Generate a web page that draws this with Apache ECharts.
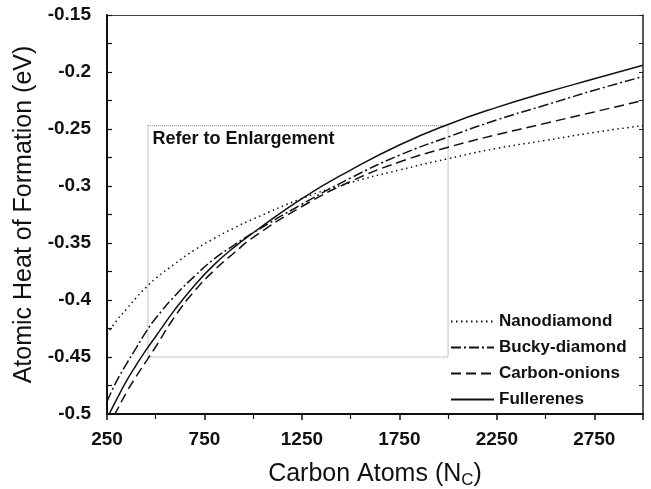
<!DOCTYPE html>
<html>
<head>
<meta charset="utf-8">
<script src="https://cdn.jsdelivr.net/npm/echarts@6/dist/echarts.min.js"></script>
<style>
  html, body { margin: 0; padding: 0; background: #fff; }
  #chart { width: 651px; height: 489px; }
</style>
</head>
<body>
<div id="chart"></div>
<script>
// carbon atom counts where the curves were read
const atoms = [250, 300, 350, 400, 450, 500, 600, 700, 800, 900, 1000, 1250, 1500, 1750, 2000, 2250, 2500, 2750, 3000];

// atomic heat of formation (eV)
const nanodiamond = [-0.430, -0.418, -0.408, -0.398, -0.389, -0.381, -0.368, -0.356, -0.346, -0.337, -0.329, -0.311, -0.297, -0.286, -0.276, -0.267, -0.260, -0.253, -0.247];
const buckyDiamond = [-0.489, -0.471, -0.456, -0.442, -0.428, -0.416, -0.396, -0.379, -0.364, -0.352, -0.341, -0.316, -0.293, -0.273, -0.257, -0.242, -0.229, -0.216, -0.204];
const carbonOnions = [-0.513, -0.497, -0.481, -0.467, -0.454, -0.441, -0.414, -0.392, -0.374, -0.359, -0.345, -0.318, -0.296, -0.279, -0.266, -0.255, -0.245, -0.235, -0.225];
const fullerenes = [-0.504, -0.487, -0.471, -0.457, -0.444, -0.432, -0.408, -0.387, -0.369, -0.354, -0.341, -0.311, -0.286, -0.264, -0.246, -0.231, -0.218, -0.206, -0.194];

const seriesNames = ['Nanodiamond', 'Bucky-diamond', 'Carbon-onions', 'Fullerenes'];

// dotted box: [N from, eV top], [N to, eV bottom]
const enlargeBox = [[460, -0.247], [2000, -0.45]];

const FONT = '"Liberation Sans", Arial, sans-serif';
const INK = '#111';

const toPairs = (vals) => atoms.map((n, i) => [n, vals[i]]);

const lineSeries = (name, vals, type, width) => ({
  name,
  type: 'line',
  data: toPairs(vals),
  smooth: true,
  symbol: 'none',
  clip: true,
  lineStyle: { color: INK, width, type },
  itemStyle: { color: INK }
});

const chart = echarts.init(document.getElementById('chart'), null, { renderer: 'canvas' });

const series = [
  lineSeries(seriesNames[0], nanodiamond, [1.5, 3.5], 1.5),
  lineSeries(seriesNames[1], buckyDiamond, [10, 3, 2, 3], 1.5),
  lineSeries(seriesNames[2], carbonOnions, [10, 5], 1.5),
  lineSeries(seriesNames[3], fullerenes, 'solid', 1.5)
];

series[0].markArea = {
  silent: true,
  itemStyle: {
    color: 'rgba(0,0,0,0)',
    borderColor: '#888',
    borderWidth: 1,
    borderType: [1, 1]
  },
  label: {
    show: true,
    position: 'insideTopLeft',
    distance: 5,
    formatter: 'Refer to Enlargement',
    color: INK,
    fontFamily: FONT,
    fontSize: 18,
    fontWeight: 'bold'
  },
  data: [[
    { coord: enlargeBox[0] },
    { coord: enlargeBox[1] }
  ]]
};

const option = {
  animation: false,
  backgroundColor: '#fff',
  grid: { left: 107, right: 8, top: 15, bottom: 75, outerBoundsMode: 'none', containLabel: false },
  legend: {
    data: seriesNames,
    orient: 'vertical',
    left: 450,
    top: 313,
    padding: 0,
    itemWidth: 43,
    itemHeight: 14,
    itemGap: 9,
    itemStyle: { color: 'rgba(0,0,0,0)', borderWidth: 0, opacity: 0 },
    textStyle: { color: INK, fontFamily: FONT, fontSize: 17, fontWeight: 'bold' }
  },
  xAxis: [{
    type: 'value',
    min: 250,
    max: 3000,
    interval: 500,
    name: 'Carbon Atoms (N{sub|C})',
    nameLocation: 'middle',
    nameGap: 45,
    nameTextStyle: {
      color: INK,
      fontFamily: FONT,
      fontSize: 25,
      lineHeight: 30,
      rich: { sub: { fontFamily: FONT, fontSize: 17, color: INK, verticalAlign: 'bottom', lineHeight: 22 } }
    },
    axisLine: { lineStyle: { color: INK, width: 2 } },
    axisTick: { show: true, length: 6, lineStyle: { color: INK, width: 1.5 } },
    minorTick: { show: true, splitNumber: 2, length: 5, lineStyle: { color: INK, width: 1.2 } },
    axisLabel: {
      color: INK, fontFamily: FONT, fontSize: 19, fontWeight: 'bold', margin: 16,
      showMaxLabel: false,
      formatter: (v) => String(v)
    },
    splitLine: { show: false }
  }, {
    type: 'value',
    position: 'top',
    min: 250,
    max: 3000,
    interval: 500,
    axisLine: { show: true, lineStyle: { color: '#444', width: 1 } },
    axisTick: { show: false },
    axisLabel: { show: false },
    splitLine: { show: false }
  }],
  yAxis: [{
    type: 'value',
    min: -0.5,
    max: -0.15,
    interval: 0.05,
    name: 'Atomic Heat of Formation (eV)',
    nameLocation: 'middle',
    nameGap: 68,
    nameTextStyle: { color: INK, fontFamily: FONT, fontSize: 25 },
    axisLine: { show: true, lineStyle: { color: INK, width: 2 } },
    axisTick: { show: true, inside: true, length: 5, lineStyle: { color: INK, width: 1.2 } },
    minorTick: { show: true, splitNumber: 2, length: 5, lineStyle: { color: INK, width: 1.2 } },
    axisLabel: {
      color: INK, fontFamily: FONT, fontSize: 19, fontWeight: 'bold', margin: 16,
      formatter: (v) => String(parseFloat(v.toFixed(2)))
    },
    splitLine: { show: false }
  }, {
    type: 'value',
    position: 'right',
    min: -0.5,
    max: -0.15,
    interval: 0.05,
    axisLine: { show: true, lineStyle: { color: '#222', width: 1.5 } },
    axisTick: { show: true, inside: true, length: 4, lineStyle: { color: '#222', width: 1 } },
    minorTick: { show: true, splitNumber: 2, length: 4, lineStyle: { color: '#222', width: 1 } },
    axisLabel: { show: false },
    splitLine: { show: false }
  }],
  series
};

chart.setOption(option);
</script>
</body>
</html>
